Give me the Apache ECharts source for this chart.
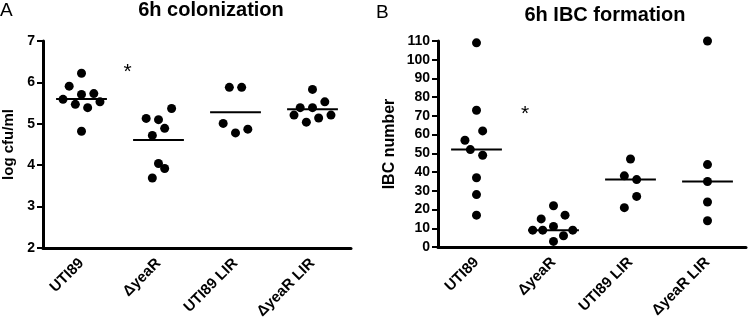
<!DOCTYPE html>
<html>
<head>
<meta charset="utf-8">
<style>
  html, body { margin: 0; padding: 0; background: #fff; }
  #main { width: 750px; height: 328px; }
</style>
<script src="https://cdn.jsdelivr.net/npm/echarts@6/dist/echarts.min.js"></script>
</head>
<body>
<div id="main"></div>
<script>
// groups on the x axis
var categories = ['UTI89', 'ΔyeaR', 'UTI89 LIR', 'ΔyeaR LIR'];

// panel A: log cfu/ml, each point is [group offset, value]
var colonUTI89 = [[0, 6.22], [-0.16, 5.91], [0, 5.71], [0.16, 5.73], [-0.24, 5.59], [0.24, 5.53], [-0.08, 5.47], [0.08, 5.39], [0, 4.82]];
var colonYeaR = [[0.17, 5.37], [-0.16, 5.13], [0, 5.10], [0.08, 4.89], [-0.08, 4.72], [0, 4.04], [0.08, 3.92], [-0.08, 3.69]];
var colonUTI89LIR = [[-0.08, 5.88], [0.08, 5.88], [-0.16, 5.01], [0, 4.78], [0.16, 4.87]];
var colonYeaRLIR = [[0, 5.83], [0.16, 5.53], [-0.16, 5.39], [0, 5.39], [-0.24, 5.21], [0.24, 5.21], [-0.08, 5.04], [0.08, 5.14]];
var colonLines = [5.60, 4.61, 5.28, 5.35];
var colonStar = [0.6, 6.38];

// panel B: IBC number
var ibcUTI89 = [[0, 109], [0, 73], [0.08, 62], [-0.15, 57], [-0.08, 52], [0.08, 49], [0, 37], [0, 28], [0, 17]];
var ibcYeaR = [[0, 22], [0.15, 17], [-0.16, 15], [0, 11], [-0.27, 9], [-0.14, 9], [0.25, 9], [0.13, 6], [0, 3]];
var ibcUTI89LIR = [[0, 47], [-0.08, 38], [0.08, 36], [0.08, 27], [-0.08, 21]];
var ibcYeaRLIR = [[0, 110], [0, 44], [0, 35], [0, 24], [0, 14]];
var ibcLines = [52, 9, 36, 35];
var ibcStar = [0.63, 74];

var FONT = '"Liberation Sans", Arial, sans-serif';

function toPoints(groups) {
  var out = [];
  groups.forEach(function (g, i) {
    g.forEach(function (p) { out.push([i + p[0], p[1]]); });
  });
  return out;
}

function catAxis(grid) {
  return {
    type: 'category',
    gridIndex: grid,
    data: categories,
    boundaryGap: true,
    axisLine: { onZero: false, lineStyle: { color: '#000', width: 3 } },
    axisTick: { alignWithLabel: true, length: 7, lineStyle: { color: '#000', width: 3 } },
    axisLabel: {
      rotate: 45, margin: 13, color: '#000',
      fontFamily: FONT, fontWeight: 'bold', fontSize: 15
    },
    splitLine: { show: false }
  };
}

function valAxisX(grid) {
  return { type: 'value', gridIndex: grid, min: -0.5, max: 3.5, show: false };
}

function valAxisY(grid, min, max, name, nameSize, gap) {
  return {
    type: 'value',
    gridIndex: grid,
    min: min, max: max, interval: max > 20 ? 10 : 1,
    name: name,
    nameLocation: 'middle',
    nameGap: gap,
    nameTextStyle: { color: '#000', fontFamily: FONT, fontWeight: 'bold', fontSize: nameSize },
    axisLine: { show: true, onZero: false, lineStyle: { color: '#000', width: 3 } },
    axisTick: { show: true, length: 6, lineStyle: { color: '#000', width: 2 } },
    axisLabel: { margin: 8, color: '#000', fontFamily: FONT, fontWeight: 'bold', fontSize: 14 },
    splitLine: { show: false }
  };
}

function dots(xi, yi, data) {
  return {
    type: 'scatter', xAxisIndex: xi, yAxisIndex: yi,
    data: data, symbolSize: 9,
    itemStyle: { color: '#000', opacity: 1 },
    silent: true
  };
}

function meanLines(xi, yi, data) {
  return {
    type: 'custom', xAxisIndex: xi, yAxisIndex: yi,
    data: data.map(function (m, i) { return [i, m]; }),
    renderItem: function (params, api) {
      var i = api.value(0), m = api.value(1);
      var a = api.coord([i - 0.33, m]);
      var b = api.coord([i + 0.33, m]);
      return {
        type: 'line',
        shape: { x1: a[0], y1: a[1], x2: b[0], y2: b[1] },
        style: { stroke: '#000', lineWidth: 2 }
      };
    },
    silent: true
  };
}

function star(xi, yi, pos) {
  return {
    type: 'custom', xAxisIndex: xi, yAxisIndex: yi,
    data: [pos],
    renderItem: function (params, api) {
      var p = api.coord([api.value(0), api.value(1)]);
      // '*' sits high in its em box, so drop it a little
      return {
        type: 'text', x: p[0], y: p[1] + 6,
        style: { text: '*', font: '21px ' + FONT, fill: '#000', textAlign: 'center', textVerticalAlign: 'middle' }
      };
    },
    silent: true
  };
}

var chart = echarts.init(document.getElementById('main'));
chart.setOption({
  backgroundColor: '#fff',
  animation: false,
  grid: [
    { left: 43, top: 41, width: 308, height: 207 },
    { left: 438, top: 41, width: 308, height: 206 }
  ],
  xAxis: [catAxis(0), valAxisX(0), catAxis(1), valAxisX(1)],
  yAxis: [
    valAxisY(0, 2, 7, 'log cfu/ml', 15, 27),
    valAxisY(1, 0, 110, 'IBC number', 16, 40)
  ],
  graphic: [
    { type: 'text', x: 0, y: 1, style: { text: 'A', font: '19px ' + FONT, fill: '#000' } },
    { type: 'text', x: 376, y: 3, style: { text: 'B', font: '19px ' + FONT, fill: '#000' } },
    { type: 'text', x: 211, y: 10, style: { text: '6h colonization', font: 'bold 20px ' + FONT, fill: '#000', textAlign: 'center', textVerticalAlign: 'middle' } },
    { type: 'text', x: 605, y: 15, style: { text: '6h IBC formation', font: 'bold 20px ' + FONT, fill: '#000', textAlign: 'center', textVerticalAlign: 'middle' } }
  ],
  series: [
    dots(1, 0, toPoints([colonUTI89, colonYeaR, colonUTI89LIR, colonYeaRLIR])),
    meanLines(1, 0, colonLines),
    star(1, 0, colonStar),
    dots(3, 1, toPoints([ibcUTI89, ibcYeaR, ibcUTI89LIR, ibcYeaRLIR])),
    meanLines(3, 1, ibcLines),
    star(3, 1, ibcStar)
  ]
});
</script>
</body>
</html>
